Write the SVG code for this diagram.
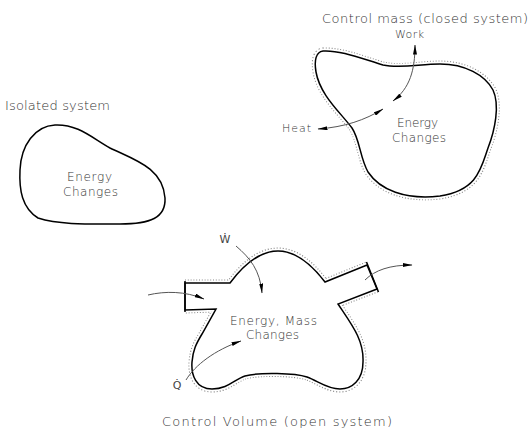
<svg xmlns="http://www.w3.org/2000/svg" width="531" height="436" viewBox="0 0 531 436">
<defs>
<marker id="ah" viewBox="0 0 10 4" refX="9.5" refY="2" markerWidth="10" markerHeight="4" markerUnits="userSpaceOnUse" orient="auto-start-reverse"><path d="M0,0 L10,2 L0,4 Z" fill="#000"/></marker>
</defs>
<style>
text{font-family:"DejaVu Sans","Liberation Sans",sans-serif;fill:#333;font-weight:200;}
.s13{font-size:13px}
.s12{font-size:12px}
.s11{font-size:11px}
.sym{font-weight:normal;fill:#444}
.outline{fill:#fff;stroke:#000;stroke-width:1.5;stroke-linejoin:miter}
.dots{fill:none;stroke:#888;stroke-width:7;stroke-dasharray:1 1.8}
.cover{fill:none;stroke:#fff;stroke-width:5}
.arrow{fill:none;stroke:#555;stroke-width:1}
.cap{fill:none;stroke:#000;stroke-width:1.5}
</style>
<rect width="531" height="436" fill="#fff"/>

<g id="isolated-system">
<path class="outline" d="M55,125 C78,124 92,138 110,148 C135,160 163,168 165,198 C166,218 150,224 120,224 C90,224 60,225 38,218 C22,208 19,190 20,170 C21,145 35,126 55,125 Z"/>
<text class="s13" x="5" y="110" textLength="105">Isolated system</text>
<text class="s12" x="67" y="181" textLength="45">Energy</text>
<text class="s12" x="63" y="196" textLength="55">Changes</text>
</g>

<g id="control-mass">
<path class="dots" d="M323,51 C340,50 360,58 383,65 C400,69 420,64 440,64 C465,64 485,75 493,90 C500,105 495,130 488,148 C481,168 478,190 440,196 C405,200 380,190 368,172 C360,158 360,140 352,128 C340,112 320,95 316,72 C314,60 316,52 323,51 Z"/>
<path class="cover" d="M323,51 C340,50 360,58 383,65 C400,69 420,64 440,64 C465,64 485,75 493,90 C500,105 495,130 488,148 C481,168 478,190 440,196 C405,200 380,190 368,172 C360,158 360,140 352,128 C340,112 320,95 316,72 C314,60 316,52 323,51 Z"/>
<path class="outline" d="M323,51 C340,50 360,58 383,65 C400,69 420,64 440,64 C465,64 485,75 493,90 C500,105 495,130 488,148 C481,168 478,190 440,196 C405,200 380,190 368,172 C360,158 360,140 352,128 C340,112 320,95 316,72 C314,60 316,52 323,51 Z"/>
<text class="s13" x="322" y="23" textLength="206">Control mass (closed system)</text>
<text class="s11" x="395" y="38" textLength="29">Work</text>
<text class="s11" x="282" y="132" textLength="29">Heat</text>
<text class="s12" x="397" y="127" textLength="41">Energy</text>
<text class="s12" x="392" y="142" textLength="54">Changes</text>
</g>

<g id="control-volume">
<path class="dots" d="M185,283 L230,283 C245,263 260,251 278,251 C297,251 312,265 325,282 L367,265 M377,289 L338,304 C352,325 364,340 363,362 C363,380 352,389 340,389 C327,389 318,381 307,377 C295,373 260,372 245,376 C235,379 228,389 212,389 C196,389 191,375 192,362 C193,350 196,344 202,334 L216,309 L185,310"/>
<path class="cover" d="M185,283 L230,283 C245,263 260,251 278,251 C297,251 312,265 325,282 L367,265 M377,289 L338,304 C352,325 364,340 363,362 C363,380 352,389 340,389 C327,389 318,381 307,377 C295,373 260,372 245,376 C235,379 228,389 212,389 C196,389 191,375 192,362 C193,350 196,344 202,334 L216,309 L185,310"/>
<path class="outline" d="M185,283 L230,283 C245,263 260,251 278,251 C297,251 312,265 325,282 L367,265 L377,289 L338,304 C352,325 364,340 363,362 C363,380 352,389 340,389 C327,389 318,381 307,377 C295,373 260,372 245,376 C235,379 228,389 212,389 C196,389 191,375 192,362 C193,350 196,344 202,334 L216,309 L185,310 Z"/>
<path class="cap" d="M185,281 L185,312 M366.5,262 L378.5,292"/>
<text class="s12" x="230" y="325" textLength="87">Energy, Mass</text>
<text class="s12" x="246" y="339" textLength="53">Changes</text>
<text class="s11 sym" x="225" y="243" text-anchor="middle">Ẇ</text>
<text class="s11 sym" x="177" y="389" text-anchor="middle">Q̇</text>
<text class="s13" x="162" y="426" textLength="230">Control Volume (open system)</text>
</g>

<g id="connectors">
<path class="arrow" d="M415,45 C415,70 410,88 393,101" marker-start="url(#ah)" marker-end="url(#ah)"/>
<path class="arrow" d="M318,129 C345,127 365,120 383,109" marker-start="url(#ah)" marker-end="url(#ah)"/>
<path class="arrow" d="M148,295 C165,291 185,291 204,299" marker-end="url(#ah)"/>
<path class="arrow" d="M365,280 C375,270 390,265 412,265" marker-end="url(#ah)"/>
<path class="arrow" d="M236,246 C250,258 260,270 262,293" marker-end="url(#ah)"/>
<path class="arrow" d="M186,380 C195,365 215,350 241,341" marker-end="url(#ah)"/>
</g>
</svg>
